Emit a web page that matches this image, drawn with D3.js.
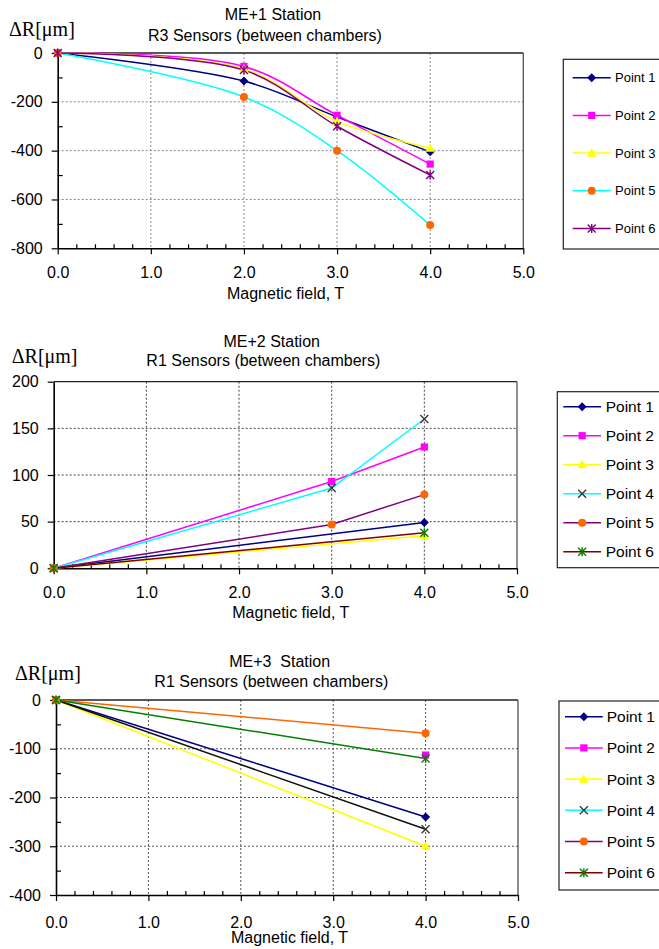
<!DOCTYPE html>
<html>
<head>
<meta charset="utf-8">
<script src="https://cdn.jsdelivr.net/npm/d3@7"></script>
<style>
  html, body { margin: 0; padding: 0; background: #fff; }
  svg { display: block; }
  text { font-family: "Liberation Sans", Arial, sans-serif; fill: #000; }
</style>
</head>
<body>
<svg id="chart" width="659" height="949"></svg>
<script>
// ---------------- DATA ----------------
const xTickValues = [0, 1, 2, 3, 4, 5];

// ME+1 station, R3 sensors
const me1Field = [0, 2, 3, 4];
const me1Names = ["Point 1", "Point 2", "Point 3", "Point 5", "Point 6"];
const me1P1 = [0, -115, -262, -405];
const me1P2 = [0, -55, -255, -455];
const me1P3 = [0, -65, -280, -390];
const me1P5 = [0, -180, -400, -705];
const me1P6 = [0, -70, -300, -500];
const me1YTicks = [0, -200, -400, -600, -800];
const me1YMinor = [-100, -300, -500, -700];

// ME+2 station, R1 sensors
const me2Field = [0, 3, 4];
const me2Names = ["Point 1", "Point 2", "Point 3", "Point 4", "Point 5", "Point 6"];
const me2P1 = [0, null, 49];
const me2P2 = [0, 93, 130];
const me2P3 = [0, null, 35];
const me2P4 = [0, 86, 160];
const me2P5 = [0, 47, 79];
const me2P6 = [0, null, 38];
const me2YTicks = [0, 50, 100, 150, 200];
const me2YMinor = [];

// ME+3 station, R1 sensors
const me3Field = [0, 4];
const me3Names = ["Point 1", "Point 2", "Point 3", "Point 4", "Point 5", "Point 6"];
const me3P1 = [0, -240];
const me3P2 = [0, -113];
const me3P3 = [0, -300];
const me3P4 = [0, -265];
const me3P5 = [0, -68];
const me3P6 = [0, -120];
const me3YTicks = [0, -100, -200, -300, -400];
const me3YMinor = [-50, -150, -250, -350];

// ---------------- STYLES ----------------
const NAVY = "#000080", MAG = "#ff00ff", YEL = "#ffff00", CYAN = "#00ffff",
      ORANGE = "#ff6600", PURPLE = "#800080", MAROON = "#800000", GREEN = "#008000",
      DARK = "#333333";

const me1Style = [
  {line: NAVY, legLine: NAVY, marker: "diamond", mFill: NAVY},
  {line: MAG, legLine: MAG, marker: "square", mFill: MAG},
  {line: YEL, legLine: YEL, marker: "triangle", mFill: YEL},
  {line: CYAN, legLine: CYAN, marker: "circle", mFill: ORANGE},
  {line: PURPLE, legLine: PURPLE, marker: "star", mFill: PURPLE}
];
const me2Style = [
  {line: NAVY, legLine: NAVY, marker: "diamond", mFill: NAVY},
  {line: MAG, legLine: MAG, marker: "square", mFill: MAG},
  {line: YEL, legLine: YEL, marker: "triangle", mFill: YEL},
  {line: CYAN, legLine: CYAN, marker: "x", mFill: DARK},
  {line: PURPLE, legLine: PURPLE, marker: "circle", mFill: ORANGE},
  {line: MAROON, legLine: MAROON, marker: "star", mFill: GREEN}
];
const me3Style = [
  {line: NAVY, legLine: NAVY, marker: "diamond", mFill: NAVY},
  {line: "none", legLine: MAG, marker: "square", mFill: MAG},
  {line: YEL, legLine: YEL, marker: "triangle", mFill: YEL},
  {line: "#111111", legLine: CYAN, marker: "x", mFill: DARK},
  {line: ORANGE, legLine: PURPLE, marker: "circle", mFill: ORANGE},
  {line: GREEN, legLine: MAROON, marker: "star", mFill: GREEN}
];

const svg = d3.select("#chart");
svg.append("rect").attr("width", 659).attr("height", 949).attr("fill", "#fff");

function drawMarker(g, type, cx, cy, color) {
  const m = g.append("g").attr("transform", `translate(${cx},${cy})`);
  if (type === "diamond") {
    m.append("path").attr("d", "M0,-4.5L4.5,0L0,4.5L-4.5,0Z").attr("fill", color);
  } else if (type === "square") {
    m.append("rect").attr("x", -3.6).attr("y", -3.6).attr("width", 7.2).attr("height", 7.2).attr("fill", color);
  } else if (type === "triangle") {
    m.append("path").attr("d", "M0,-4.8L4.8,3.6L-4.8,3.6Z").attr("fill", color);
  } else if (type === "circle") {
    m.append("circle").attr("r", 4).attr("fill", color);
  } else if (type === "x") {
    m.append("path").attr("d", "M-4,-4L4,4M-4,4L4,-4").attr("stroke", color).attr("stroke-width", 1.3).attr("fill", "none");
  } else if (type === "star") {
    m.append("path").attr("d", "M-4,-4L4,4M-4,4L4,-4M0,-4.5L0,4.5").attr("stroke", color).attr("stroke-width", 1.4).attr("fill", "none");
  }
}

function drawChart(cfg) {
  const g = svg.append("g");
  const x = d3.scaleLinear().domain([0, 5]).range([cfg.x0, cfg.x5]);
  const y = d3.scaleLinear().domain([cfg.yMin, cfg.yMax]).range([cfg.yBot, cfg.yTop]);

  // gridlines
  const inner = cfg.yTicks.filter(v => v !== cfg.yMin && v !== cfg.yMax);
  g.selectAll(".hg").data(inner).enter().append("line")
    .attr("x1", cfg.x0).attr("x2", cfg.x5)
    .attr("y1", d => y(d)).attr("y2", d => y(d))
    .attr("stroke", cfg.gridColor).attr("stroke-width", 1).attr("stroke-dasharray", "2,2");
  g.selectAll(".vg").data(xTickValues.filter(v => v > 0 && v < 5)).enter().append("line")
    .attr("x1", d => x(d)).attr("x2", d => x(d))
    .attr("y1", cfg.yTop).attr("y2", cfg.yBot)
    .attr("stroke", cfg.gridColor).attr("stroke-width", 1).attr("stroke-dasharray", "2,2");
  // top & right borders
  g.append("line").attr("x1", cfg.x0).attr("x2", cfg.x5).attr("y1", cfg.yTop).attr("y2", cfg.yTop)
    .attr("stroke", "#222").attr("stroke-width", 1.3);
  g.append("line").attr("x1", cfg.x5).attr("x2", cfg.x5).attr("y1", cfg.yTop).attr("y2", cfg.yBot)
    .attr("stroke", "#444").attr("stroke-width", 1.2);

  // axes
  const yAxis = d3.axisLeft(y).tickValues(cfg.yTicks).tickSize(6).tickSizeOuter(0)
    .tickPadding(9).tickFormat(d => String(d));
  const ya = g.append("g").attr("transform", `translate(${cfg.x0},0)`).call(yAxis);
  const yMinorAxis = d3.axisLeft(y).tickValues(cfg.yMinor).tickSizeInner(-5).tickSizeOuter(0).tickFormat("");
  const ym = g.append("g").attr("transform", `translate(${cfg.x0},0)`).call(yMinorAxis);
  ym.select(".domain").remove();

  const xAxis = d3.axisBottom(x).tickValues(xTickValues).tickSize(6).tickSizeOuter(0)
    .tickPadding(cfg.xPad).tickFormat(d3.format(".1f"));
  const xa = g.append("g").attr("transform", `translate(0,${cfg.yBot})`).call(xAxis);
  const xMinorAxis = d3.axisBottom(x)
    .tickValues(d3.range(0, 5, 0.2).filter(v => Math.abs(v - Math.round(v)) > 0.01))
    .tickSizeInner(-4).tickSizeOuter(0).tickFormat("");
  const xm = g.append("g").attr("transform", `translate(0,${cfg.yBot})`).call(xMinorAxis);
  xm.select(".domain").remove();

  [ya, ym, xa, xm].forEach(a => {
    a.selectAll(".domain").attr("stroke", "#000").attr("stroke-width", 1.6);
    a.selectAll(".tick line").attr("stroke", "#000").attr("stroke-width", 1.2);
    a.selectAll(".tick text").attr("font-size", 16).attr("font-family", '"Liberation Sans", Arial, sans-serif').attr("fill", "#000");
  });

  // series
  const lineGen = d3.line().x(d => x(d.x)).y(d => y(d.y)).curve(cfg.curve);
  cfg.series.forEach((s, i) => {
    const pts = cfg.field.map((f, j) => ({x: f, y: s.values[j]})).filter(d => d.y !== null);
    if (s.style.line !== "none") {
      g.append("path").datum(pts).attr("d", lineGen)
        .attr("fill", "none").attr("stroke", s.style.line).attr("stroke-width", 1.5);
    }
  });
  cfg.series.forEach((s, i) => {
    const pts = cfg.field.map((f, j) => ({x: f, y: s.values[j]})).filter(d => d.y !== null);
    pts.forEach(p => drawMarker(g, s.style.marker, x(p.x), y(p.y), s.style.mFill));
  });

  // titles
  g.append("text").attr("x", cfg.t1x).attr("y", cfg.t1y).attr("text-anchor", "middle")
    .attr("font-size", 16).style("white-space", "pre").text(cfg.title1);
  g.append("text").attr("x", cfg.t2x).attr("y", cfg.t2y).attr("text-anchor", "middle")
    .attr("font-size", 16).text(cfg.title2);
  g.append("text").attr("x", cfg.dRx).attr("y", cfg.dRy)
    .style("font-family", '"Liberation Serif", "Times New Roman", serif').attr("font-size", 20).text("ΔR[μm]");
  g.append("text").attr("x", cfg.xlx).attr("y", cfg.xly).attr("text-anchor", "middle")
    .attr("font-size", 16).text("Magnetic field, T");

  // legend
  const L = cfg.legend;
  g.append("rect").attr("x", L.left).attr("y", L.top).attr("width", 120).attr("height", L.bottom - L.top)
    .attr("fill", "#fff").attr("stroke", "#222").attr("stroke-width", 1.2);
  cfg.series.forEach((s, i) => {
    const cy = L.row0 + i * L.step;
    g.append("line").attr("x1", L.lx1).attr("x2", L.lx2).attr("y1", cy).attr("y2", cy)
      .attr("stroke", s.style.legLine).attr("stroke-width", 1.5);
    drawMarker(g, s.style.marker, (L.lx1 + L.lx2) / 2, cy, s.style.mFill);
    g.append("text").attr("x", L.tx).attr("y", cy).attr("dy", "0.36em")
      .attr("font-size", L.fs).text(s.name);
  });
}

function makeSeries(names, valueArrays, styles) {
  return names.map((n, i) => ({name: n, values: valueArrays[i], style: styles[i]}));
}

drawChart({
  x0: 57.7, x5: 523.3, yTop: 53, yBot: 248.3, yMin: -800, yMax: 0,
  yTicks: me1YTicks, yMinor: me1YMinor, xPad: 12.5, gridColor: "#888",
  field: me1Field, curve: d3.curveCatmullRom.alpha(0.5),
  series: makeSeries(me1Names, [me1P1, me1P2, me1P3, me1P5, me1P6], me1Style),
  title1: "ME+1 Station", t1x: 273, t1y: 20,
  title2: "R3 Sensors (between chambers)", t2x: 265, t2y: 40.5,
  dRx: 9, dRy: 36, xlx: 285.5, xly: 298.5,
  legend: {left: 563.3, top: 59.3, bottom: 249, row0: 77.7, step: 37.7,
           lx1: 572.7, lx2: 610.7, tx: 615, fs: 13}
});

drawChart({
  x0: 53.7, x5: 517, yTop: 381.7, yBot: 568.3, yMin: 0, yMax: 200,
  yTicks: me2YTicks, yMinor: me2YMinor, xPad: 12, gridColor: "#444",
  field: me2Field, curve: d3.curveLinear,
  series: makeSeries(me2Names, [me2P1, me2P2, me2P3, me2P4, me2P5, me2P6], me2Style),
  title1: "ME+2 Station", t1x: 271.7, t1y: 346.7,
  title2: "R1 Sensors (between chambers)", t2x: 263.3, t2y: 366,
  dRx: 11.7, dRy: 363.3, xlx: 290.8, xly: 618.3,
  legend: {left: 557.3, top: 391.7, bottom: 567.7, row0: 406.7, step: 29,
           lx1: 563.3, lx2: 601, tx: 605.7, fs: 15.5}
});

drawChart({
  x0: 56, x5: 518, yTop: 700, yBot: 895, yMin: -400, yMax: 0,
  yTicks: me3YTicks, yMinor: me3YMinor, xPad: 15.5, gridColor: "#555",
  field: me3Field, curve: d3.curveLinear,
  series: makeSeries(me3Names, [me3P1, me3P2, me3P3, me3P4, me3P5, me3P6], me3Style),
  title1: "ME+3  Station", t1x: 279.7, t1y: 667.3,
  title2: "R1 Sensors (between chambers)", t2x: 271.3, t2y: 686.7,
  dRx: 15, dRy: 680, xlx: 289.5, xly: 943.3,
  legend: {left: 559, top: 701, bottom: 890, row0: 716.7, step: 31.2,
           lx1: 565, lx2: 602.7, tx: 606.7, fs: 15.5}
});
</script>
</body>
</html>
